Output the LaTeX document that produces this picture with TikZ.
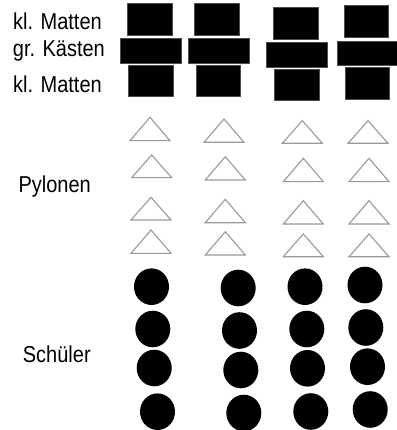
\documentclass[tikz,border=0pt]{standalone}
\usepackage{fontspec}
\setmainfont{Liberation Sans}
\begin{document}
\begin{tikzpicture}[x=1pt,y=-1pt,
  lbl/.style={anchor=base west,inner sep=0pt,font=\fontsize{20}{24}\selectfont},
  mat/.style={fill=black,draw=black!70,line width=0.6pt,inner sep=0pt},
  pyl/.style={draw=black!40,line width=1.1pt,line join=miter},
  kid/.style={ellipse,fill=black,inner sep=0pt,minimum width=35pt,minimum height=36.6pt}]
\useasboundingbox (0,0) rectangle (396,430);
\tikzset{ellipse/.style={shape=circle}}
% labels
\node[lbl] (l1) at (13,29.3) {\scalebox{1}[1.15]{kl. Matten}};
\node[lbl] (l2) at (12.7,56.5) {\scalebox{1}[1.15]{gr. Kästen}};
\node[lbl] (l3) at (13,92.7) {\scalebox{1}[1.15]{kl. Matten}};
\node[lbl] (l4) at (18.3,192.3) {\scalebox{1}[1.15]{Pylonen}};
\node[lbl] (l5) at (22.7,362.3) {\scalebox{1}[1.15]{Schüler}};
% mats and boxes
\newcommand{\matbox}[5]{\node[mat,minimum width=#3pt,minimum height=#4pt] (#5) at (#1,#2) {};}
\matbox{150.2}{19.2}{45}{31.7}{a1}
\matbox{151.2}{50.8}{61}{25}{b1}
\matbox{151}{80.9}{44.6}{31.7}{c1}
\matbox{217}{19.2}{44.6}{31.7}{a2}
\matbox{218.8}{50.8}{61}{25}{b2}
\matbox{218.4}{80.9}{44.7}{31.7}{c2}
\matbox{295.8}{23.3}{45}{32}{a3}
\matbox{297}{55.2}{60.6}{25}{b3}
\matbox{296.8}{84.7}{45}{30.7}{c3}
\matbox{366.2}{21.2}{44.3}{32.3}{a4}
\matbox{367.8}{53.7}{61}{24}{b4}
\matbox{367.2}{83.4}{44.3}{31.3}{c4}
% pylons
\newcommand{\pylon}[3]{\draw[pyl] (#1,#3) -- (#1+20,#2) -- (#1+40,#3) -- cycle;}
\pylon{130}{117.3}{140.7}
\pylon{204}{119}{142.3}
\pylon{282.3}{120.7}{143.3}
\pylon{348}{120.7}{143.3}
\pylon{131.7}{155}{177.7}
\pylon{205.3}{156.7}{180}
\pylon{283.3}{158.3}{181.7}
\pylon{349}{158.3}{181.7}
\pylon{131}{197.3}{220}
\pylon{205.3}{199.3}{222.7}
\pylon{283.3}{200.7}{224}
\pylon{349}{200.7}{224}
\pylon{131}{230}{253.3}
\pylon{205.3}{231.7}{255}
\pylon{283.3}{234}{256.7}
\pylon{349}{234}{256.7}
% pupils
\newcommand{\kidat}[3]{\fill (#1,#2) ellipse [x radius=17.5, y radius=18.3]; \coordinate (#3) at (#1,#2);}
\kidat{151.5}{286.7}{s11}
\kidat{238.2}{288}{s12}
\kidat{305}{286.7}{s13}
\kidat{365}{285}{s14}
\kidat{152.8}{329}{s21}
\kidat{239.5}{330.5}{s22}
\kidat{306.8}{329}{s23}
\kidat{365.8}{327.5}{s24}
\kidat{154.2}{368}{s31}
\kidat{240.8}{370}{s32}
\kidat{307.5}{368.3}{s33}
\kidat{367.5}{366.7}{s34}
\kidat{157.5}{411.7}{s41}
\kidat{243.8}{413}{s42}
\kidat{310.8}{411.5}{s43}
\kidat{370.2}{409.5}{s44}
\end{tikzpicture}
\end{document}
